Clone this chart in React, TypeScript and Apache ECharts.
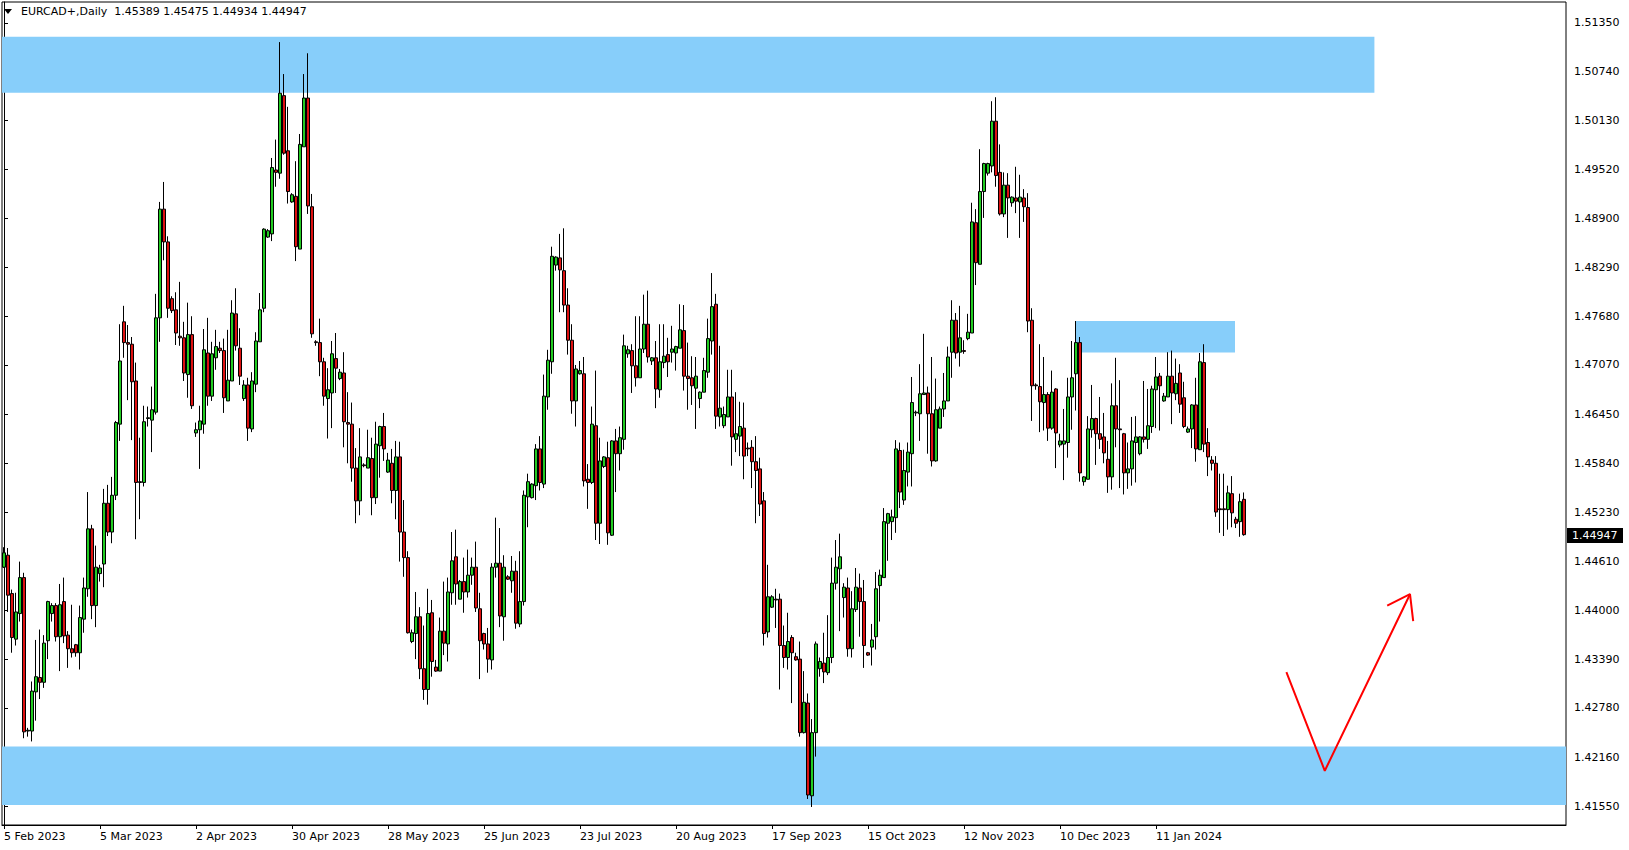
import React, { useEffect, useRef } from "react";
import * as echarts from "echarts";

const symbolName = "EURCAD+,Daily";
const FONT = '"DejaVu Sans", Verdana, sans-serif';

// Daily OHLC (bar 0 = Sun 5 Feb 2023)
const opens = [
  1.4454, 1.4469, 1.4421, 1.4364, 1.4396, 1.4441, 1.4249, 1.4249, 1.4298, 1.4316,
  1.4310, 1.4362, 1.4396, 1.4406, 1.4367, 1.4411, 1.4369, 1.4352, 1.4357, 1.4347,
  1.4389, 1.4427, 1.4502, 1.4406, 1.4446, 1.4458, 1.4534, 1.4498, 1.4544, 1.4633,
  1.4761, 1.4735, 1.4733, 1.4687, 1.4561, 1.4560, 1.4640, 1.4638, 1.4648, 1.4766,
  1.4902, 1.4861, 1.4790, 1.4776, 1.4743, 1.4741, 1.4695, 1.4745, 1.4622, 1.4626,
  1.4633, 1.4722, 1.4668, 1.4716, 1.4728, 1.4725, 1.4662, 1.4687, 1.4771, 1.4728,
  1.4665, 1.4682, 1.4627, 1.4683, 1.4736, 1.4778, 1.4867, 1.4871, 1.4951, 1.4947,
  1.5044, 1.4975, 1.4911, 1.4918, 1.4852, 1.4980, 1.5041, 1.4905, 1.4736, 1.4735,
  1.4711, 1.4665, 1.4672, 1.4715, 1.4690, 1.4697, 1.4635, 1.4633, 1.4578, 1.4537,
  1.4582, 1.4578, 1.4590, 1.4541, 1.4606, 1.4630, 1.4573, 1.4584, 1.4550, 1.4592,
  1.4498, 1.4466, 1.4361, 1.4371, 1.4392, 1.4327, 1.4301, 1.4397, 1.4329, 1.4324,
  1.4374, 1.4358, 1.4422, 1.4467, 1.4414, 1.4436, 1.4423, 1.4444, 1.4454, 1.4402,
  1.4371, 1.4358, 1.4338, 1.4454, 1.4459, 1.4392, 1.4442, 1.4437, 1.4449, 1.4383,
  1.4411, 1.4542, 1.4541, 1.4556, 1.4602, 1.4558, 1.4667, 1.4711, 1.4832, 1.4841,
  1.4825, 1.4782, 1.4738, 1.4662, 1.4696, 1.4696, 1.4564, 1.4560, 1.4631, 1.4509,
  1.4580, 1.4591, 1.4494, 1.4612, 1.4596, 1.4614, 1.4721, 1.4725, 1.4706, 1.4691,
  1.4727, 1.4758, 1.4712, 1.4716, 1.4676, 1.4710, 1.4720, 1.4723, 1.4722, 1.4728,
  1.4750, 1.4693, 1.4691, 1.4678, 1.4665, 1.4673, 1.4698, 1.4737, 1.4783, 1.4642,
  1.4631, 1.4642, 1.4667, 1.4614, 1.4618, 1.4628, 1.4603, 1.4604, 1.4586, 1.4577,
  1.4537, 1.4373, 1.4404, 1.4414, 1.4414, 1.4356, 1.4341, 1.4366, 1.4342, 1.4339,
  1.4247, 1.4284, 1.4168, 1.4247, 1.4327, 1.4334, 1.4322, 1.4341, 1.4434, 1.4452,
  1.4416, 1.4428, 1.4352, 1.4401, 1.4428, 1.4411, 1.4347, 1.4354, 1.4367, 1.4431,
  1.4441, 1.4509, 1.4511, 1.4516, 1.4600, 1.4538, 1.4573, 1.4596, 1.4647, 1.4646,
  1.4670, 1.4672, 1.4646, 1.4587, 1.4628, 1.4652, 1.4662, 1.4723, 1.4763, 1.4723,
  1.4725, 1.4740, 1.4747, 1.4885, 1.4833, 1.4924, 1.4947, 1.4956, 1.5012, 1.4948,
  1.4896, 1.4932, 1.4910, 1.4916, 1.4911, 1.4916, 1.4904, 1.4763, 1.4682, 1.4680,
  1.4660, 1.4670, 1.4628, 1.4677, 1.4607, 1.4608, 1.4610, 1.4667, 1.4696, 1.4735,
  1.4561, 1.4564, 1.4626, 1.4640, 1.4621, 1.4617, 1.4589, 1.4567, 1.4656, 1.4627,
  1.4621, 1.4572, 1.4577, 1.4610, 1.4596, 1.4617, 1.4614, 1.4630, 1.4676, 1.4693,
  1.4662, 1.4667, 1.4693, 1.4671, 1.4697, 1.4666, 1.4623, 1.4627, 1.4657, 1.4601,
  1.4710, 1.4610, 1.4588, 1.4584, 1.4527, 1.4527, 1.4526, 1.4546, 1.4514, 1.4511, 1.45389,
];

const closes = [
  1.4472, 1.4419, 1.4366, 1.4398, 1.4441, 1.4248, 1.4250, 1.4299, 1.4317, 1.4310,
  1.4359, 1.4411, 1.4406, 1.4367, 1.4407, 1.4368, 1.4352, 1.4347, 1.4347, 1.4391,
  1.4428, 1.4502, 1.4406, 1.4454, 1.4453, 1.4534, 1.4498, 1.4544, 1.4635, 1.4712,
  1.4735, 1.4733, 1.4686, 1.4560, 1.4560, 1.4636, 1.4641, 1.4651, 1.4766, 1.4902,
  1.4861, 1.4778, 1.4775, 1.4747, 1.4741, 1.4697, 1.4745, 1.4656, 1.4626, 1.4637,
  1.4726, 1.4668, 1.4721, 1.4730, 1.4725, 1.4666, 1.4688, 1.4772, 1.4731, 1.4693,
  1.4682, 1.4628, 1.4687, 1.4737, 1.4776, 1.4877, 1.4875, 1.4954, 1.4948, 1.5047,
  1.4972, 1.4924, 1.4920, 1.4855, 1.4983, 1.5041, 1.4906, 1.4746, 1.4735, 1.4711,
  1.4668, 1.4676, 1.4721, 1.4703, 1.4698, 1.4636, 1.4633, 1.4578, 1.4537, 1.4592,
  1.4581, 1.4591, 1.4541, 1.4608, 1.4630, 1.4602, 1.4588, 1.4550, 1.4592, 1.4498,
  1.4466, 1.4372, 1.4372, 1.4392, 1.4327, 1.4301, 1.4396, 1.4336, 1.4324, 1.4374,
  1.4359, 1.4423, 1.4462, 1.4433, 1.4436, 1.4423, 1.4444, 1.4454, 1.4403, 1.4362,
  1.4358, 1.4339, 1.4454, 1.4459, 1.4393, 1.4454, 1.4439, 1.4449, 1.4384, 1.4411,
  1.4544, 1.4561, 1.4558, 1.4602, 1.4560, 1.4668, 1.4713, 1.4843, 1.4842, 1.4826,
  1.4782, 1.4738, 1.4662, 1.4702, 1.4700, 1.4562, 1.4560, 1.4633, 1.4509, 1.4587,
  1.4592, 1.4497, 1.4612, 1.4596, 1.4616, 1.4731, 1.4726, 1.4706, 1.4691, 1.4727,
  1.4758, 1.4717, 1.4716, 1.4677, 1.4711, 1.4718, 1.4711, 1.4727, 1.4730, 1.4751,
  1.4693, 1.4690, 1.4681, 1.4693, 1.4673, 1.4700, 1.4740, 1.4780, 1.4643, 1.4653,
  1.4645, 1.4667, 1.4617, 1.4621, 1.4630, 1.4593, 1.4602, 1.4586, 1.4575, 1.4533,
  1.4371, 1.4417, 1.4417, 1.4413, 1.4356, 1.4341, 1.4361, 1.4347, 1.4338, 1.4247,
  1.4285, 1.4169, 1.4247, 1.4358, 1.4336, 1.4323, 1.4341, 1.4434, 1.4454, 1.4467,
  1.4429, 1.4352, 1.4402, 1.4429, 1.4411, 1.4356, 1.4344, 1.4363, 1.4427, 1.4444,
  1.4511, 1.4521, 1.4517, 1.4602, 1.4548, 1.4575, 1.4598, 1.4660, 1.4648, 1.4671,
  1.4672, 1.4646, 1.4587, 1.4651, 1.4652, 1.4662, 1.4717, 1.4763, 1.4722, 1.4741,
  1.4724, 1.4748, 1.4886, 1.4835, 1.4924, 1.4959, 1.4959, 1.5012, 1.4944, 1.4896,
  1.4932, 1.4916, 1.4917, 1.4912, 1.4917, 1.4905, 1.4762, 1.4681, 1.4681, 1.4661,
  1.4670, 1.4628, 1.4673, 1.4622, 1.4612, 1.4612, 1.4667, 1.4691, 1.4735, 1.4572,
  1.4567, 1.4627, 1.4640, 1.4621, 1.4614, 1.4597, 1.4567, 1.4656, 1.4627, 1.4626,
  1.4572, 1.4577, 1.4612, 1.4617, 1.4617, 1.4614, 1.4631, 1.4677, 1.4692, 1.4681,
  1.4668, 1.4693, 1.4672, 1.4684, 1.4658, 1.4630, 1.4627, 1.4657, 1.4602, 1.4711,
  1.4608, 1.4592, 1.4584, 1.4523, 1.4526, 1.4526, 1.4547, 1.4522, 1.4509, 1.4536, 1.44947,
];

const lows = [
  1.4453, 1.4398, 1.4347, 1.4356, 1.4386, 1.4240, 1.4242, 1.4236, 1.4262, 1.4289,
  1.4303, 1.4339, 1.4386, 1.4361, 1.4324, 1.4359, 1.4328, 1.4341, 1.4342, 1.4326,
  1.4372, 1.4417, 1.4389, 1.4379, 1.4436, 1.4429, 1.4493, 1.4484, 1.4538, 1.4612,
  1.4716, 1.4663, 1.4613, 1.4489, 1.4514, 1.4555, 1.4630, 1.4598, 1.4645, 1.4736,
  1.4838, 1.4766, 1.4772, 1.4732, 1.4731, 1.4687, 1.4666, 1.4652, 1.4617, 1.4577,
  1.4621, 1.4656, 1.4662, 1.4701, 1.4722, 1.4647, 1.4662, 1.4687, 1.4725, 1.4682,
  1.4662, 1.4612, 1.4623, 1.4673, 1.4736, 1.4773, 1.4866, 1.4862, 1.4930, 1.4940,
  1.4970, 1.4909, 1.4910, 1.4837, 1.4852, 1.4980, 1.4896, 1.4741, 1.4731, 1.4693,
  1.4656, 1.4615, 1.4628, 1.4672, 1.4688, 1.4604, 1.4584, 1.4561, 1.4509, 1.4519,
  1.4579, 1.4578, 1.4519, 1.4533, 1.4566, 1.4587, 1.4572, 1.4534, 1.4514, 1.4461,
  1.4442, 1.4371, 1.4359, 1.4339, 1.4314, 1.4288, 1.4282, 1.4317, 1.4323, 1.4324,
  1.4344, 1.4336, 1.4407, 1.4407, 1.4414, 1.4397, 1.4416, 1.4432, 1.4398, 1.4314,
  1.4351, 1.4322, 1.4326, 1.4441, 1.4379, 1.4362, 1.4438, 1.4422, 1.4377, 1.4379,
  1.4406, 1.4504, 1.4540, 1.4538, 1.4550, 1.4553, 1.4651, 1.4696, 1.4825, 1.4773,
  1.4773, 1.4720, 1.4646, 1.4630, 1.4695, 1.4555, 1.4527, 1.4558, 1.4488, 1.4483,
  1.4578, 1.4482, 1.4493, 1.4548, 1.4575, 1.4601, 1.4716, 1.4672, 1.4680, 1.4691,
  1.4722, 1.4710, 1.4707, 1.4653, 1.4666, 1.4703, 1.4692, 1.4710, 1.4700, 1.4728,
  1.4675, 1.4651, 1.4657, 1.4627, 1.4653, 1.4673, 1.4691, 1.4720, 1.4627, 1.4630,
  1.4628, 1.4642, 1.4581, 1.4598, 1.4593, 1.4564, 1.4593, 1.4553, 1.4509, 1.4518,
  1.4356, 1.4366, 1.4403, 1.4378, 1.4301, 1.4328, 1.4326, 1.4284, 1.4337, 1.4242,
  1.4246, 1.4164, 1.4154, 1.4217, 1.4317, 1.4309, 1.4319, 1.4334, 1.4426, 1.4374,
  1.4391, 1.4342, 1.4341, 1.4398, 1.4367, 1.4328, 1.4343, 1.4331, 1.4351, 1.4386,
  1.4441, 1.4462, 1.4488, 1.4497, 1.4528, 1.4532, 1.4555, 1.4555, 1.4643, 1.4612,
  1.4670, 1.4596, 1.4580, 1.4586, 1.4628, 1.4642, 1.4662, 1.4691, 1.4715, 1.4705,
  1.4721, 1.4738, 1.4747, 1.4807, 1.4833, 1.4891, 1.4944, 1.4948, 1.4930, 1.4894,
  1.4892, 1.4866, 1.4905, 1.4897, 1.4866, 1.4886, 1.4748, 1.4637, 1.4676, 1.4623,
  1.4625, 1.4612, 1.4626, 1.4578, 1.4604, 1.4563, 1.4591, 1.4626, 1.4650, 1.4561,
  1.4556, 1.4564, 1.4616, 1.4582, 1.4602, 1.4584, 1.4547, 1.4551, 1.4604, 1.4553,
  1.4545, 1.4552, 1.4556, 1.4560, 1.4594, 1.4610, 1.4602, 1.4622, 1.4628, 1.4625,
  1.4661, 1.4667, 1.4633, 1.4663, 1.4647, 1.4628, 1.4622, 1.4603, 1.4586, 1.4601,
  1.4598, 1.4568, 1.4575, 1.4517, 1.4497, 1.4493, 1.4501, 1.4504, 1.4503, 1.4492, 1.44934,
];

const highs = [
  1.4479, 1.4478, 1.4426, 1.4422, 1.4461, 1.4447, 1.4253, 1.4311, 1.4363, 1.4376,
  1.4369, 1.4412, 1.4409, 1.4409, 1.4433, 1.4441, 1.4374, 1.4407, 1.4358, 1.4406,
  1.4441, 1.4548, 1.4507, 1.4481, 1.4457, 1.4552, 1.4557, 1.4567, 1.4637, 1.4758,
  1.4781, 1.4757, 1.4742, 1.4710, 1.4616, 1.4656, 1.4655, 1.4680, 1.4796, 1.4911,
  1.4936, 1.4868, 1.4793, 1.4798, 1.4811, 1.4761, 1.4785, 1.4768, 1.4635, 1.4656,
  1.4752, 1.4766, 1.4736, 1.4751, 1.4736, 1.4740, 1.4751, 1.4788, 1.4803, 1.4753,
  1.4688, 1.4691, 1.4698, 1.4748, 1.4797, 1.4878, 1.4877, 1.4966, 1.4989, 1.5111,
  1.5071, 1.5030, 1.4922, 1.4962, 1.4996, 1.5071, 1.5097, 1.4921, 1.4738, 1.4765,
  1.4716, 1.4703, 1.4737, 1.4747, 1.4702, 1.4723, 1.4673, 1.4660, 1.4603, 1.4628,
  1.4584, 1.4626, 1.4616, 1.4636, 1.4631, 1.4647, 1.4597, 1.4602, 1.4612, 1.4611,
  1.4538, 1.4474, 1.4376, 1.4423, 1.4404, 1.4381, 1.4427, 1.4413, 1.4338, 1.4391,
  1.4436, 1.4441, 1.4498, 1.4501, 1.4438, 1.4466, 1.4476, 1.4466, 1.4486, 1.4422,
  1.4372, 1.4378, 1.4459, 1.4516, 1.4503, 1.4469, 1.4444, 1.4468, 1.4462, 1.4474,
  1.4550, 1.4571, 1.4559, 1.4608, 1.4618, 1.4695, 1.4726, 1.4855, 1.4843, 1.4871,
  1.4878, 1.4803, 1.4758, 1.4707, 1.4712, 1.4717, 1.4583, 1.4655, 1.4700, 1.4616,
  1.4593, 1.4611, 1.4613, 1.4627, 1.4630, 1.4745, 1.4731, 1.4733, 1.4768, 1.4768,
  1.4795, 1.4800, 1.4717, 1.4737, 1.4758, 1.4758, 1.4741, 1.4756, 1.4731, 1.4783,
  1.4782, 1.4735, 1.4718, 1.4717, 1.4674, 1.4716, 1.4765, 1.4822, 1.4796, 1.4731,
  1.4655, 1.4701, 1.4701, 1.4673, 1.4661, 1.4660, 1.4610, 1.4613, 1.4618, 1.4591,
  1.4548, 1.4457, 1.4419, 1.4427, 1.4421, 1.4381, 1.4397, 1.4369, 1.4347, 1.4361,
  1.4324, 1.4296, 1.4264, 1.4361, 1.4341, 1.4372, 1.4394, 1.4466, 1.4488, 1.4496,
  1.4434, 1.4441, 1.4424, 1.4453, 1.4446, 1.4438, 1.4348, 1.4383, 1.4448, 1.4451,
  1.4528, 1.4522, 1.4526, 1.4613, 1.4610, 1.4601, 1.4610, 1.4692, 1.4650, 1.4708,
  1.4746, 1.4680, 1.4717, 1.4690, 1.4655, 1.4697, 1.4730, 1.4788, 1.4772, 1.4781,
  1.4738, 1.4771, 1.4910, 1.4902, 1.4977, 1.4960, 1.4960, 1.5037, 1.5042, 1.4983,
  1.4948, 1.4947, 1.4918, 1.4955, 1.4945, 1.4927, 1.4922, 1.4778, 1.4684, 1.4733,
  1.4717, 1.4673, 1.4700, 1.4678, 1.4621, 1.4652, 1.4691, 1.4737, 1.4762, 1.4742,
  1.4568, 1.4643, 1.4682, 1.4641, 1.4667, 1.4647, 1.4612, 1.4684, 1.4716, 1.4688,
  1.4622, 1.4610, 1.4642, 1.4643, 1.4618, 1.4687, 1.4677, 1.4681, 1.4717, 1.4697,
  1.4672, 1.4723, 1.4725, 1.4715, 1.4708, 1.4686, 1.4630, 1.4658, 1.4691, 1.4722,
  1.4733, 1.4628, 1.4593, 1.4593, 1.4571, 1.4571, 1.4556, 1.4568, 1.4517, 1.4546, 1.45475,
];

// price scale labels shown on the right
const priceTicks = [
  1.5135, 1.5074, 1.5013, 1.4952, 1.489, 1.4829, 1.4768, 1.4707, 1.4645,
  1.4584, 1.4523, 1.4461, 1.44, 1.4339, 1.4278, 1.4216, 1.4155,
];

// days without a bar (besides Saturdays)
const holidays = ["2023-12-24", "2023-12-25", "2023-12-31", "2024-01-01"];
const months = ["Jan", "Feb", "Mar", "Apr", "May", "Jun", "Jul", "Aug", "Sep", "Oct", "Nov", "Dec"];
const LABEL_EVERY = 24;
const SLOTS = 391; // bar slots visible in the window

// supply / demand zones (price bounds, bar-slot bounds)
const topZone = { high: 1.51178, low: 1.50477, endSlot: 342.6 };
const midZone = { high: 1.47621, low: 1.47225, startSlot: 267.9, endSlot: 307.75 };
const bottomZone = { high: 1.42296, low: 1.41566 };

// hand-drawn arrow (bar slot, price)
const arrowPath = [[320.6, 1.43228], [330.2, 1.41993], [351.5, 1.44202]];
const arrowHead = [[345.8, 1.4406], [351.5, 1.44202], [352.3, 1.43865]];

const Y_MIN = 1.413145;
const Y_MAX = 1.516115;

function buildDates(n: number): string[] {
  const out: string[] = [];
  const d = new Date(Date.UTC(2023, 1, 5));
  while (out.length < n) {
    const key = d.toISOString().slice(0, 10);
    if (d.getUTCDay() !== 6 && !holidays.includes(key)) {
      out.push(`${d.getUTCDate()} ${months[d.getUTCMonth()]} ${d.getUTCFullYear()}`);
    }
    d.setUTCDate(d.getUTCDate() + 1);
  }
  return out;
}

export default function App() {
  const ref = useRef<HTMLDivElement>(null);

  useEffect(() => {
    document.body.style.margin = "0";
    if (!ref.current) return;
    const chart = echarts.init(ref.current, null, { renderer: "svg" });
    const dates = buildDates(SLOTS);
    const n = closes.length;
    const candles = closes.map((c, i) => [opens[i], c, lows[i], highs[i]]);
    const last = n - 1;
    const header = `${symbolName}  ${opens[last].toFixed(5)} ${highs[last].toFixed(5)} ${lows[last].toFixed(5)} ${closes[last].toFixed(5)}`;
    const showIdx = (i: number) => i % LABEL_EVERY === 0 && i < n;

    const headerGraphics = [
      {
        id: "tri",
        type: "polygon",
        shape: { points: [[4, 9], [12, 9], [8, 14]] },
        style: { fill: "#000" },
      },
      {
        id: "hdr",
        type: "text",
        x: 21,
        y: 6,
        style: { text: header, fill: "#000", font: `11px ${FONT}` },
      },
    ];

    chart.setOption({
      animation: false,
      backgroundColor: "#ffffff",
      grid: {
        left: 2,
        right: 63,
        top: 2,
        bottom: 25,
        show: true,
        borderColor: "#000",
        borderWidth: 1,
        backgroundColor: "transparent",
      },
      xAxis: [
        {
          type: "category",
          data: dates,
          boundaryGap: true,
          axisLine: { show: true, lineStyle: { color: "#000", width: 1 } },
          axisTick: {
            show: true,
            alignWithLabel: true,
            interval: (i: number) => showIdx(i),
            length: 4,
            lineStyle: { color: "#000" },
          },
          axisLabel: {
            interval: (i: number) => showIdx(i),
            align: "left",
            margin: 6,
            color: "#000",
            fontSize: 11,
            fontFamily: FONT,
          },
          splitLine: { show: false },
        },
        { type: "value", min: -0.5, max: SLOTS - 0.5, show: false },
      ],
      yAxis: {
        type: "value",
        position: "right",
        min: Y_MIN,
        max: Y_MAX,
        axisLine: { show: true, lineStyle: { color: "#000", width: 1 } },
        axisTick: { show: true, length: 4, customValues: priceTicks, lineStyle: { color: "#000" } },
        axisLabel: {
          customValues: priceTicks,
          formatter: (v: number) => v.toFixed(5),
          color: "#000",
          fontSize: 11,
          fontFamily: FONT,
          margin: 8,
        },
        splitLine: { show: false },
      },
      graphic: headerGraphics,
      series: [
        {
          name: "zones",
          type: "line",
          xAxisIndex: 1,
          data: [],
          z: 1,
          silent: true,
          markArea: {
            silent: true,
            z: 1,
            itemStyle: { color: "#87cefa" },
            label: { show: false },
            data: [
              [{ yAxis: topZone.high }, { xAxis: topZone.endSlot, yAxis: topZone.low }],
              [
                { xAxis: midZone.startSlot, yAxis: midZone.high },
                { xAxis: midZone.endSlot, yAxis: midZone.low },
              ],
              [{ yAxis: bottomZone.high }, { yAxis: bottomZone.low }],
            ],
          },
        },
        {
          name: symbolName,
          type: "candlestick",
          data: candles,
          barWidth: 3,
          z: 3,
          clip: false,
          silent: true,
          itemStyle: {
            color: "#22cc22",
            color0: "#dd1111",
            borderColor: "#000",
            borderColor0: "#000",
            borderWidth: 1,
          },
        },
        {
          name: "arrow",
          type: "line",
          xAxisIndex: 1,
          data: arrowPath,
          symbol: "none",
          silent: true,
          z: 10,
          lineStyle: { color: "#ff0000", width: 2 },
        },
        {
          name: "arrowHead",
          type: "line",
          xAxisIndex: 1,
          data: arrowHead,
          symbol: "none",
          silent: true,
          z: 10,
          lineStyle: { color: "#ff0000", width: 2 },
        },
      ],
    });

    // current price tag on the price scale, placed through the axis scales
    const py = chart.convertToPixel({ yAxisIndex: 0 }, closes[last]) as number;
    const px = chart.convertToPixel({ xAxisIndex: 1 }, SLOTS - 0.5) as number;
    chart.setOption({
      graphic: [
        ...headerGraphics,
        {
          id: "priceTag",
          type: "group",
          x: px + 1,
          y: Math.round(py) - 7,
          children: [
            { type: "rect", shape: { x: 0, y: 0, width: 56, height: 15 }, style: { fill: "#000" } },
            {
              type: "text",
              x: 5,
              y: 2,
              style: { text: closes[last].toFixed(5), fill: "#fff", font: `11px ${FONT}` },
            },
          ],
        },
      ],
    });

    return () => chart.dispose();
  }, []);

  return <div ref={ref} style={{ width: 1629, height: 850 }} />;
}
